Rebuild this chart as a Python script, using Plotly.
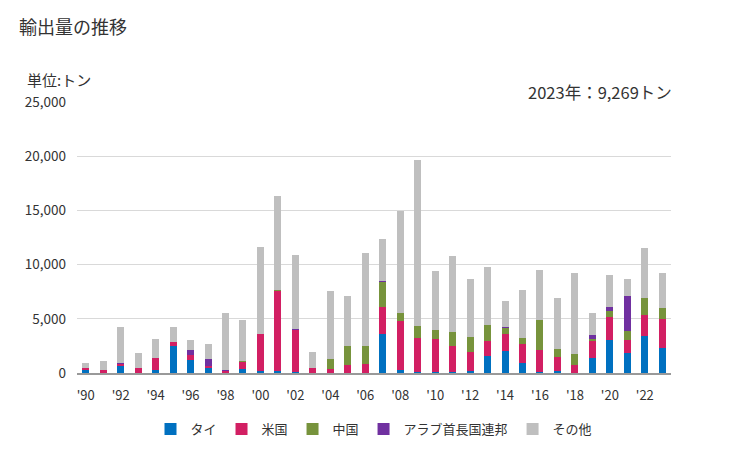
import plotly.graph_objects as go

years = list(range(1990, 2024))
tick_years = list(range(1990, 2024, 2))
tick_labels = ["'" + str(y)[2:] for y in tick_years]

thai = [278, 0, 679, 0, 278, 2531, 1204, 463, 0, 370, 185, 185, 93, 0, 0, 0, 0, 3611, 278, 93,
        93, 93, 185, 1605, 2037, 926, 93, 185, 0, 1420, 3086, 1852, 3457, 2346]
usa = [185, 278, 154, 463, 1111, 340, 432, 185, 185, 648, 3426, 7407, 3889, 463, 370, 741, 833, 2500, 4537, 3148,
       3056, 2407, 1759, 1358, 1574, 1759, 2037, 1296, 741, 1543, 2099, 1235, 1914, 2654]
china = [0, 0, 0, 0, 0, 0, 0, 0, 0, 93, 0, 93, 0, 0, 926, 1759, 1667, 2315, 741, 1111,
         833, 1296, 1389, 1481, 556, 556, 2778, 741, 1019, 185, 556, 802, 1574, 1019]
uae = [0, 0, 93, 0, 0, 0, 494, 648, 93, 0, 0, 0, 93, 0, 0, 0, 0, 93, 0, 0,
       0, 0, 0, 0, 93, 0, 0, 0, 0, 370, 370, 3241, 0, 0]
others = [463, 833, 3333, 1389, 1759, 1389, 926, 1389, 5278, 3796, 8056, 8611, 6852, 1481, 6296, 4630, 8611, 3889, 9352, 15298,
          5463, 7037, 5370, 5370, 2407, 4444, 4630, 4722, 7500, 2037, 2963, 1574, 4630, 3250]

series = [
    ("タイ", thai, "#0070c0"),
    ("米国", usa, "#d21f63"),
    ("中国", china, "#77933c"),
    ("アラブ首長国連邦", uae, "#7030a0"),
    ("その他", others, "#bfbfbf"),
]

FONT = "Noto Sans CJK JP"
L, R, T, B = 77, 58, 102, 77
PW, PH = 729 - L - R, 450 - T - B

def px_x(x):
    return (x - L) / PW

def px_y(y):
    return (450 - B - y) / PH

fig = go.Figure()
for name, vals, col in series:
    fig.add_trace(go.Bar(x=years, y=vals, name=name, marker=dict(color=col, line=dict(width=0))))

fig.update_layout(
    barmode="stack",
    bargap=0.6,
    width=729, height=450,
    margin=dict(l=L, r=R, t=T, b=B, autoexpand=False),
    paper_bgcolor="white", plot_bgcolor="white",
    font=dict(family=FONT, size=13, color="#333333"),
    showlegend=True,
    legend=dict(orientation="h", x=0.5, xanchor="center", y=px_y(414), yanchor="top",
                font=dict(family=FONT, size=13, color="#333333"), traceorder="normal",
                itemwidth=30, tracegroupgap=0),
)
fig.add_annotation(text="輸出量の推移", xref="paper", yref="paper",
                   x=px_x(17), y=px_y(26), xanchor="left", yanchor="middle",
                   showarrow=False, font=dict(family=FONT, size=18, color="#333333"))
fig.add_annotation(text="単位:トン", xref="paper", yref="paper",
                   x=px_x(25), y=px_y(79), xanchor="left", yanchor="middle",
                   showarrow=False, font=dict(family=FONT, size=15, color="#333333"))
fig.add_annotation(text="2023年：9,269トン", xref="paper", yref="paper",
                   x=px_x(674), y=px_y(92), xanchor="right", yanchor="middle",
                   showarrow=False, font=dict(family=FONT, size=16.5, color="#333333"))

fig.update_xaxes(range=[1989.5, 2023.5], tickmode="array", tickvals=tick_years, ticktext=tick_labels,
                 showgrid=False, showline=True, linecolor="#999999", linewidth=1.5,
                 ticks="", ticklabelstandoff=10,
                 tickfont=dict(size=13, color="#333333"), automargin=False)
fig.update_yaxes(range=[0, 25000], tickvals=[0, 5000, 10000, 15000, 20000, 25000],
                 tickformat=",d", showgrid=True, gridcolor="#d9d9d9", gridwidth=1,
                 zeroline=False, ticks="", ticklabelstandoff=10,
                 tickfont=dict(size=13.5, color="#333333"), automargin=False)

fig.write_html("out.html")
